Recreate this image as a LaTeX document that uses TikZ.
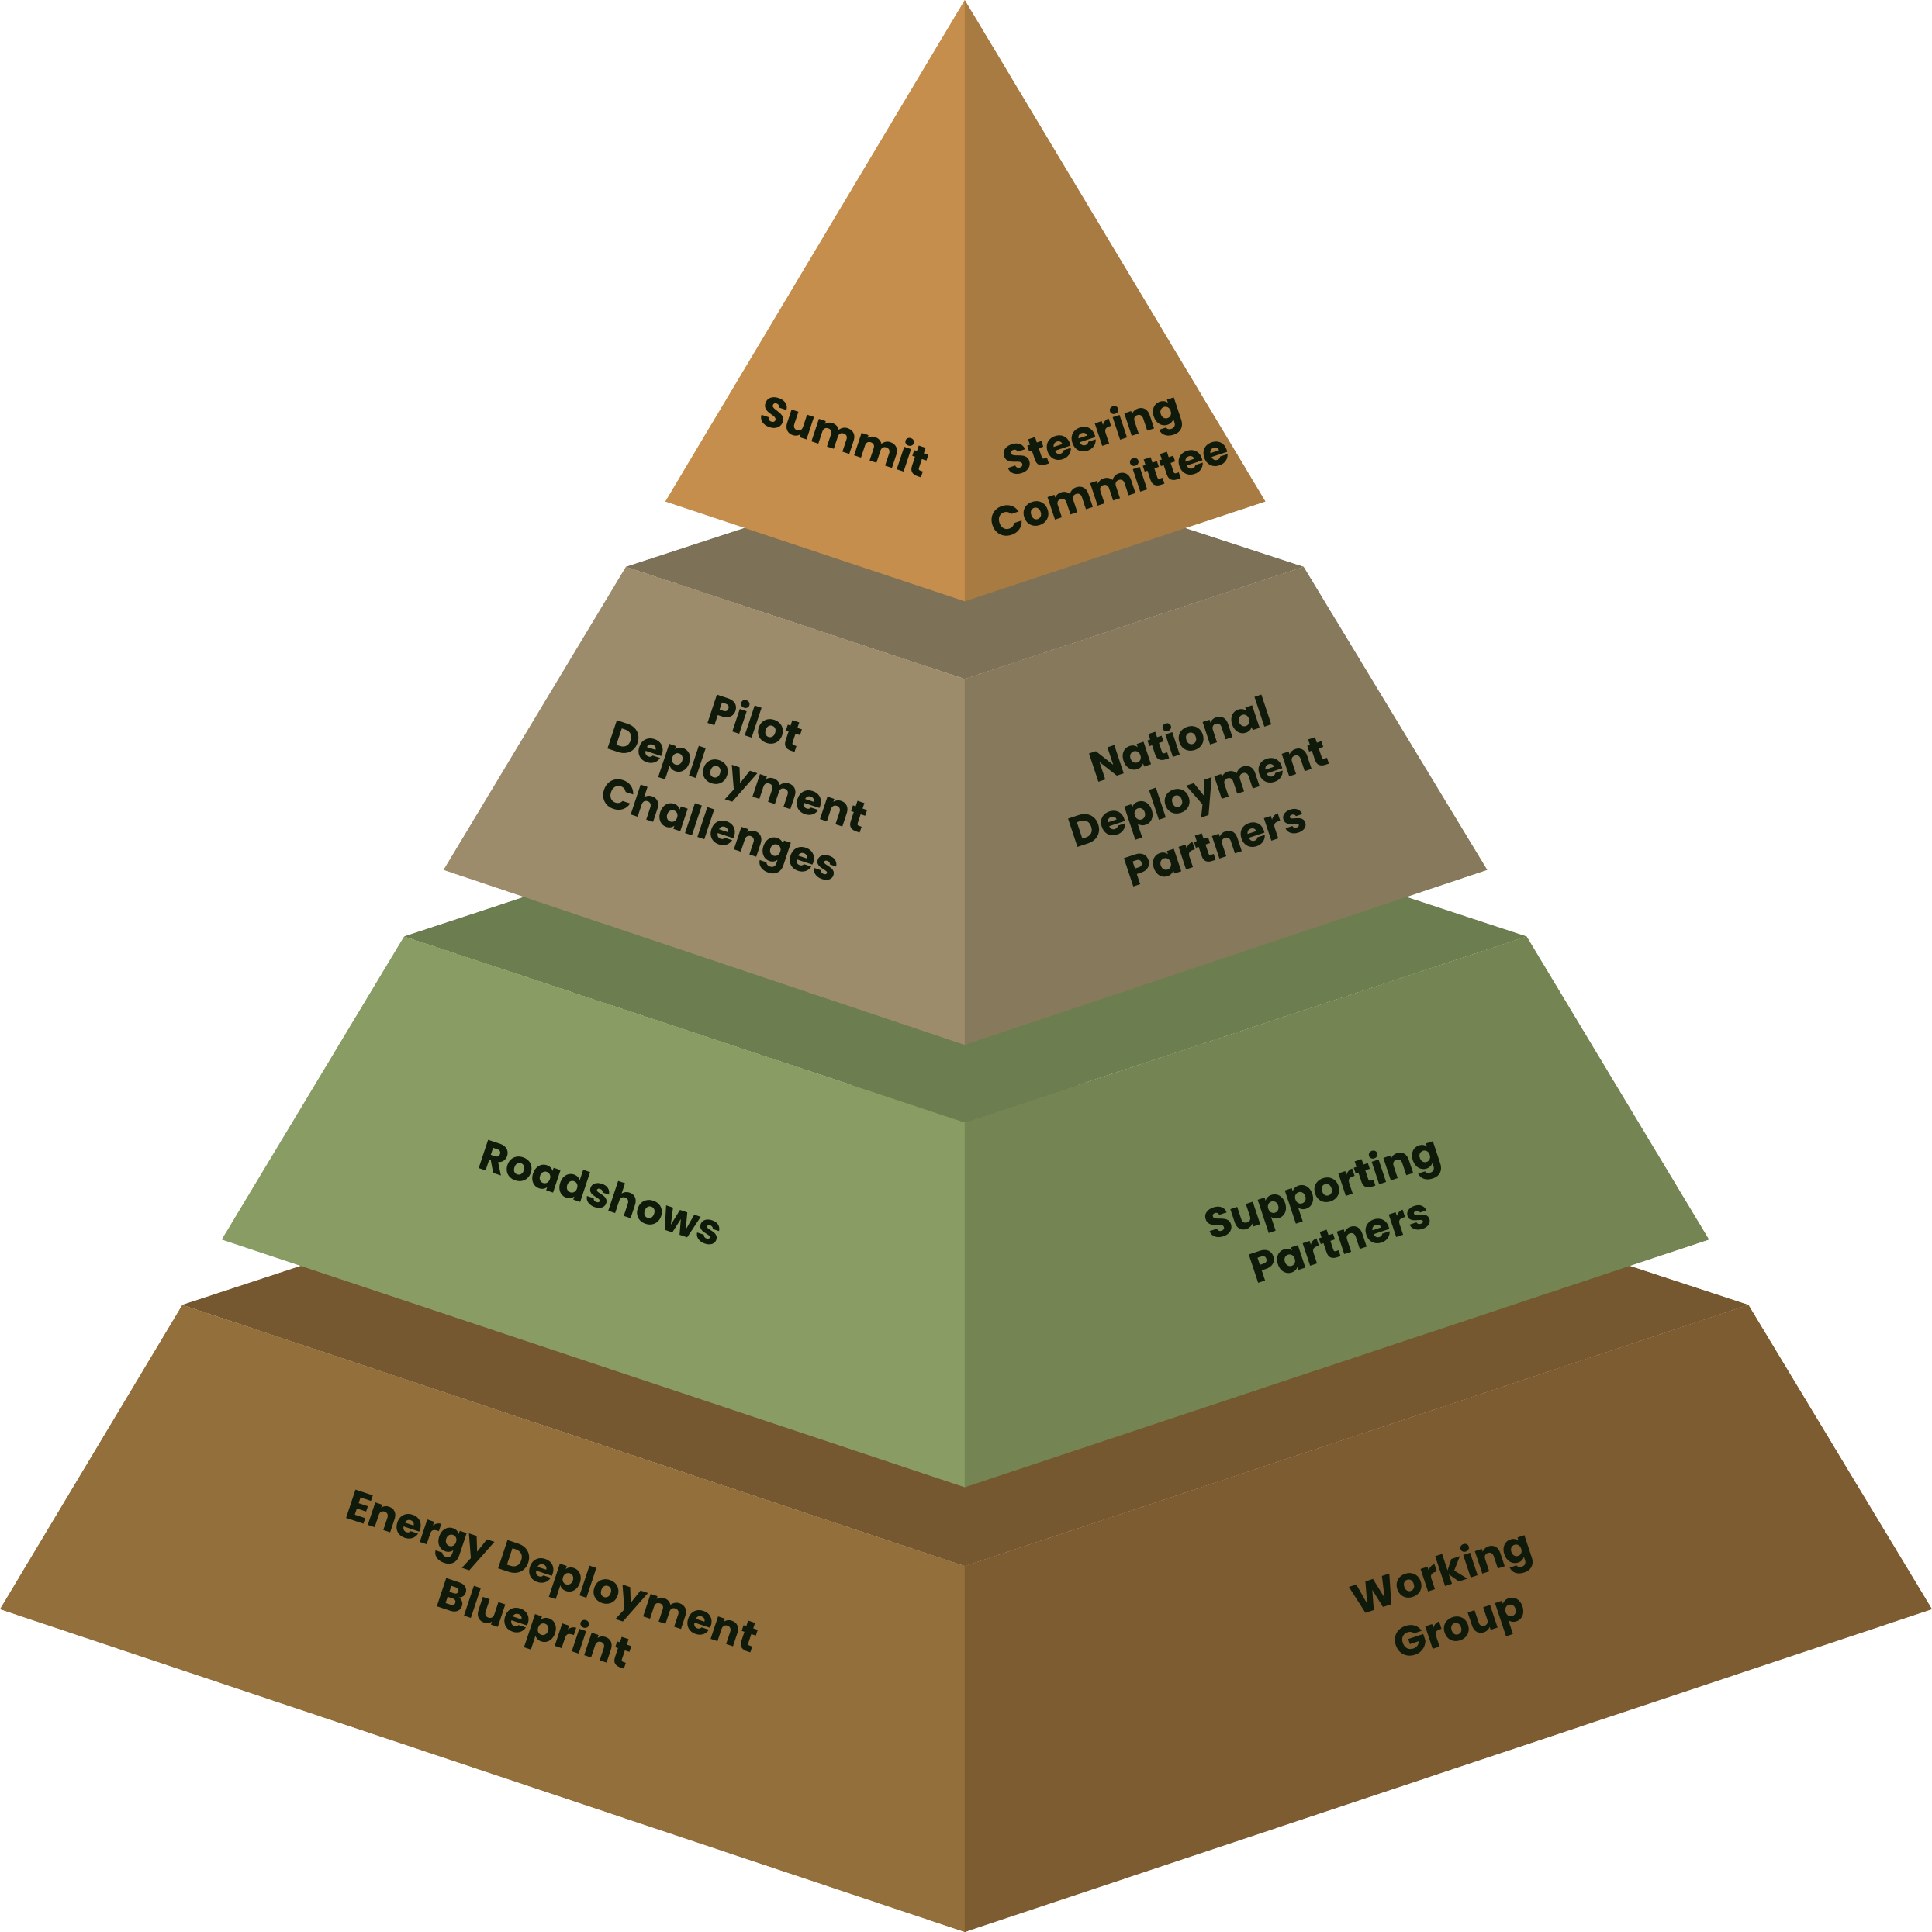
\documentclass[tikz,border=0pt]{standalone}
\usepackage{fontspec}
\setmainfont{Poppins}
\begin{document}
\begin{tikzpicture}[x=0.01cm,y=-0.01cm,
  lbl/.style={font=\fontsize{9.8}{12.8}\selectfont\bfseries, text=txt, align=center},
  lft/.style={lbl, rotate=-18.4},
  rgt/.style={lbl, rotate=18.4}]
\definecolor{txt}{HTML}{0F1A0A}
\definecolor{aL}{HTML}{C58E4C}\definecolor{aR}{HTML}{A87B42}
\definecolor{bL}{HTML}{9C8C6B}\definecolor{bR}{HTML}{86795C}\definecolor{bT}{HTML}{7D7257}
\definecolor{cL}{HTML}{889C63}\definecolor{cR}{HTML}{748452}\definecolor{cT}{HTML}{6C7D4F}
\definecolor{dL}{HTML}{936F3C}\definecolor{dR}{HTML}{7D5C31}\definecolor{dT}{HTML}{755830}
\useasboundingbox (0,0) rectangle (1568,1568);
% tier 4
\fill[dT] (148,1059)--(783,850)--(1419,1059)--(783,1271)--cycle;
\fill[dL] (148,1059)--(0,1306)--(783,1568)--(783,1271)--cycle;
\fill[dR] (783,1271)--(1419,1059)--(1568,1306)--(783,1568)--cycle;
% tier 3
\fill[cT] (328,760)--(783,610)--(1239,760)--(783,911)--cycle;
\fill[cL] (328,760)--(180,1006)--(783,1207)--(783,911)--cycle;
\fill[cR] (783,911)--(1239,760)--(1387,1006)--(783,1207)--cycle;
% tier 2
\fill[bT] (508,460)--(783,370)--(1058,460)--(783,551)--cycle;
\fill[bL] (508,460)--(360,706)--(783,848)--(783,551)--cycle;
\fill[bR] (783,551)--(1058,460)--(1207,706)--(783,848)--cycle;
% tier 1
\fill[aL] (783,0)--(540,407)--(783,488)--cycle;
\fill[aR] (783,0)--(1027,407)--(783,488)--cycle;
% labels
\node[lft] (s) at (686,353) {Summit};
\node[rgt] (sc) at (893,372) {Steering\\Committee};
\node[lft] (p) at (598,633) {Pilot\\Deployment\\Challenges};
\node[rgt] (n) at (972,641) {National\\Deployment\\Partners};
\node[lft] (r) at (488,968) {Roadshows};
\node[rgt] (sp) at (1080,984) {Supporting\\Partners};
\node[lft] (e) at (440,1300) {Energy Deployment\\Blueprint};
\node[rgt] (w) at (1178,1300) {Working\\Group};
\end{tikzpicture}
\end{document}
